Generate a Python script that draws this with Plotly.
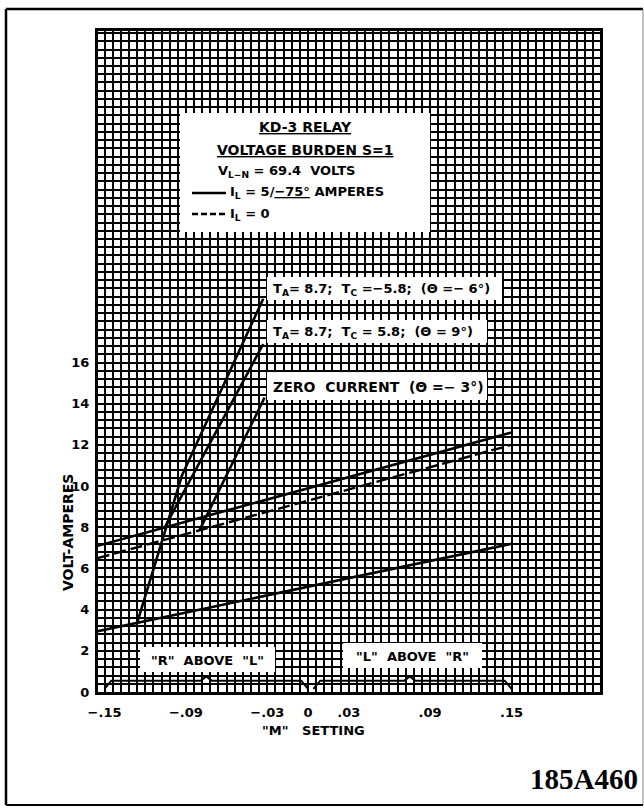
import plotly.graph_objects as go

# ---------------- data ----------------
m_ticks = [-0.15, -0.09, -0.03, 0.0, 0.03, 0.09, 0.15]
m_tick_labels = ["\u2212.15", "\u2212.09", "\u2212.03", "0", ".03", ".09", ".15"]
va_ticks = [0, 2, 4, 6, 8, 10, 12, 14, 16]
va_tick_labels = ["0", "2", "4", "6", "8", "10", "12", "14", "16"]

# base lines (M setting vs volt-amperes)
m_base = [-0.155, 0.15]
va_upper_solid = [7.1, 12.6]      # I_L = 5/-75 A
va_dashed = [6.5, 12.0]           # I_L = 0
va_lower_solid = [2.95, 7.2]      # I_L = 5/-75 A

# steep branches
m_ta_neg = [-0.126, -0.093, -0.033]
va_ta_neg = [3.35, 10.5, 19.1]    # TA=8.7; TC=-5.8 (theta=-6)
m_ta_pos = [-0.106, -0.033]
va_ta_pos = [7.95, 16.9]          # TA=8.7; TC=5.8 (theta=9)
m_zero = [-0.080, -0.032]
va_zero = [7.85, 14.3]            # zero current (theta=-3)

# range brackets along the bottom
m_br_left = [-0.150, -0.145, -0.079, -0.075, -0.071, -0.005, 0.000]
va_br_left = [0.15, 0.55, 0.55, 0.75, 0.55, 0.55, 0.15]
m_br_right = [0.004, 0.009, 0.071, 0.075, 0.079, 0.145, 0.150]
va_br_right = [0.15, 0.55, 0.55, 0.75, 0.55, 0.55, 0.15]

# ---------------- layout helpers ----------------
W, H = 644, 808
L, R, T, B = 98, 44, 31, 116
XR = [-0.1548, 0.2152]
YR = [0.0, 32.1]
FONT = "DejaVu Sans"


def px2x(px):
    return XR[0] + (px - L) / (W - L - R) * (XR[1] - XR[0])


def py2y(py):
    return YR[0] + (H - B - py) / (H - T - B) * (YR[1] - YR[0])


def ppx(px):
    return (px - L) / (W - L - R)


def ppy(py):
    return (H - B - py) / (H - T - B)


fig = go.Figure()
line_style = dict(color="black", width=2.6)

fig.add_trace(go.Scatter(x=m_base, y=va_upper_solid, mode="lines", line=line_style, hoverinfo="skip"))
fig.add_trace(go.Scatter(x=m_base, y=va_lower_solid, mode="lines", line=line_style, hoverinfo="skip"))
fig.add_trace(go.Scatter(x=m_base, y=va_dashed, mode="lines",
                         line=dict(color="black", width=2.4, dash="12px,5px"), hoverinfo="skip"))
fig.add_trace(go.Scatter(x=m_ta_neg, y=va_ta_neg, mode="lines", line=line_style, hoverinfo="skip"))
fig.add_trace(go.Scatter(x=m_ta_pos, y=va_ta_pos, mode="lines", line=line_style, hoverinfo="skip"))
fig.add_trace(go.Scatter(x=m_zero, y=va_zero, mode="lines", line=line_style, hoverinfo="skip"))
fig.add_trace(go.Scatter(x=m_br_left, y=va_br_left, mode="lines",
                         line=dict(color="black", width=2), hoverinfo="skip"))
fig.add_trace(go.Scatter(x=m_br_right, y=va_br_right, mode="lines",
                         line=dict(color="black", width=2), hoverinfo="skip"))

shapes = []
# white boxes (between grid and traces)
boxes_px = [
    (180, 113, 430, 232),   # legend box
    (267, 277, 502, 300),   # label 1
    (267, 320, 487, 343),   # label 2
    (267, 372, 487, 400),   # label 3
    (140, 647, 275, 672),   # R above L
    (343, 643, 482, 668),   # L above R
]
for x0, y0, x1, y1 in boxes_px:
    shapes.append(dict(type="rect", xref="x", yref="y", layer="between",
                       x0=px2x(x0), x1=px2x(x1), y0=py2y(y1), y1=py2y(y0),
                       fillcolor="white", line=dict(width=0)))

# legend line samples in the box
shapes.append(dict(type="line", xref="x", yref="y", x0=px2x(192), x1=px2x(226),
                   y0=py2y(193), y1=py2y(193), line=dict(color="black", width=2.4)))
shapes.append(dict(type="line", xref="x", yref="y", x0=px2x(192), x1=px2x(226),
                   y0=py2y(214), y1=py2y(214), line=dict(color="black", width=2.4, dash="6px,3px")))

# outer page border
shapes.append(dict(type="line", xref="paper", yref="paper", x0=ppx(6), x1=ppx(6),
                   y0=ppy(805), y1=ppy(9), line=dict(color="black", width=2.5)))
shapes.append(dict(type="line", xref="paper", yref="paper", x0=ppx(6), x1=ppx(643),
                   y0=ppy(9), y1=ppy(9), line=dict(color="black", width=2.5)))
shapes.append(dict(type="line", xref="paper", yref="paper", x0=ppx(643), x1=ppx(643),
                   y0=ppy(805), y1=ppy(9), line=dict(color="#888888", width=1)))
shapes.append(dict(type="line", xref="paper", yref="paper", x0=ppx(6), x1=ppx(643),
                   y0=ppy(805), y1=ppy(805), line=dict(color="black", width=2)))

fig.update_layout(shapes=shapes)

ann = []


def text(px, py, s, size=13, anchor="center", **kw):
    ann.append(dict(x=ppx(px), y=ppy(py), xref="paper", yref="paper", text=s,
                    showarrow=False, xanchor=anchor, yanchor="middle",
                    font=dict(family=FONT, size=size, color="black"), **kw))


text(305, 127, "<b><u>KD-3 RELAY</u></b>", 14)
text(305, 150, "<b><u>VOLTAGE BURDEN S=1</u></b>", 14)
text(216, 172, "<b>V<sub>L\u2212N</sub> = 69.4  VOLTS</b>", 13, anchor="left")
text(228, 193, "<b>I<sub>L</sub> = 5/<u>\u221275\u00b0</u> AMPERES</b>", 13, anchor="left")
text(228, 214, "<b>I<sub>L</sub> = 0</b>", 13, anchor="left")

text(271, 289, "<b>T<sub>A</sub>= 8.7;  T<sub>C</sub> =\u22125.8;  (\u0398 =\u2212 6\u00b0)</b>", 13, anchor="left")
text(271, 332, "<b>T<sub>A</sub>= 8.7;  T<sub>C</sub> = 5.8;  (\u0398 = 9\u00b0)</b>", 13, anchor="left")
text(271, 387, "<b>ZERO  CURRENT  (\u0398 =\u2212 3\u00b0)</b>", 14, anchor="left")

text(207, 660, "<b>\"R\"  ABOVE  \"L\"</b>", 13)
text(412, 656, "<b>\"L\"  ABOVE  \"R\"</b>", 13)

text(68, 533, "<b>VOLT-AMPERES</b>", 14, textangle=-90)
text(313, 731, "<b>\"M\"   SETTING</b>", 13)

ann.append(dict(x=ppx(640), y=ppy(779), xref="paper", yref="paper", text="<b>185A460</b>",
                showarrow=False, xanchor="right", yanchor="middle",
                font=dict(family="Liberation Serif", size=29, color="black")))

fig.update_layout(annotations=ann)

fig.update_xaxes(range=XR, tickmode="array", tickvals=m_ticks, ticktext=m_tick_labels,
                 ticks="", showline=True, mirror=True, linecolor="black", linewidth=3,
                 showgrid=True, gridcolor="black", gridwidth=2, zeroline=False,
                 tickfont=dict(family=FONT, size=13, color="black", weight="bold"),
                 minor=dict(dtick=0.006, tick0=0, showgrid=True, gridcolor="black", gridwidth=2),
                 ticklabelstandoff=6)
fig.update_yaxes(range=YR, tickmode="array", tickvals=va_ticks, ticktext=va_tick_labels,
                 ticks="", showline=True, mirror=True, linecolor="black", linewidth=3,
                 showgrid=True, gridcolor="black", gridwidth=2, zeroline=False,
                 tickfont=dict(family=FONT, size=13, color="black", weight="bold"),
                 minor=dict(dtick=0.4, tick0=0, showgrid=True, gridcolor="black", gridwidth=2),
                 ticklabelstandoff=3)

fig.update_layout(width=W, height=H, margin=dict(l=L, r=R, t=T, b=B),
                  paper_bgcolor="white", plot_bgcolor="white", showlegend=False)

fig.write_html("out.html", config={"displayModeBar": False, "staticPlot": True},
               post_script="document.body.style.margin='0';document.body.style.overflow='hidden';")
